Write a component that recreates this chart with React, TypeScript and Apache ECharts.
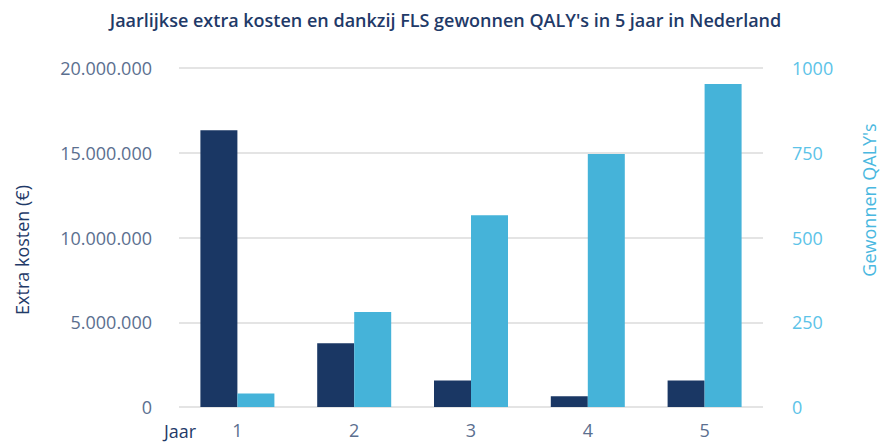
import React, { useEffect, useRef } from "react";
import * as echarts from "echarts";

const categories = ["1", "2", "3", "4", "5"];
const extraKosten = [16330000, 3760000, 1570000, 630000, 1570000];
const qalys = [40, 280, 566, 746, 953];
const leftTicks = [0, 5000000, 10000000, 15000000, 20000000];
const rightTicks = [0, 250, 500, 750, 1000];

const TITLE = "Jaarlijkse extra kosten en dankzij FLS gewonnen QALY's in 5 jaar in Nederland";
const FONT = "'Open Sans', 'Noto Sans', sans-serif";
const NAVY = "#1a3764";
const LIGHT = "#45b3d9";

function fmt(v: number): string {
  return String(Math.round(v)).replace(/\B(?=(\d{3})+(?!\d))/g, ".");
}

export default function App() {
  const ref = useRef<HTMLDivElement>(null);
  useEffect(() => {
    if (!ref.current) return;
    document.body.style.margin = "0";
    const chart = echarts.init(ref.current, undefined, { renderer: "svg" });
    chart.setOption({
      animation: false,
      backgroundColor: "#ffffff",
      title: {
        text: TITLE,
        left: "center",
        top: 6,
        textStyle: { fontFamily: FONT, fontSize: 18, fontWeight: 600, color: "#1f3a68" },
      },
      grid: { left: 179, right: 128, top: 68, bottom: 36, containLabel: false },
      xAxis: {
        type: "category",
        data: categories,
        axisLine: { show: false },
        axisTick: { show: false },
        axisLabel: { fontFamily: FONT, fontSize: 18, color: "#5b6f8f", margin: 14 },
      },
      yAxis: [
        {
          type: "value",
          min: leftTicks[0],
          max: leftTicks[leftTicks.length - 1],
          interval: leftTicks[1] - leftTicks[0],
          axisLine: { show: false },
          axisTick: { show: false },
          splitLine: { lineStyle: { color: "#e4e4e4", width: 2 } },
          axisLabel: {
            fontFamily: FONT,
            fontSize: 18,
            color: "#5b6f8f",
            margin: 27,
            formatter: (v: number) => fmt(v),
          },
        },
        {
          type: "value",
          min: rightTicks[0],
          max: rightTicks[rightTicks.length - 1],
          interval: rightTicks[1] - rightTicks[0],
          axisLine: { show: false },
          axisTick: { show: false },
          splitLine: { show: false },
          axisLabel: {
            fontFamily: FONT,
            fontSize: 18,
            color: "#5cc3e8",
            margin: 29,
            formatter: (v: number) => String(v),
          },
        },
      ],
      series: [
        {
          name: "Extra kosten (€)",
          type: "bar",
          data: extraKosten,
          yAxisIndex: 0,
          barWidth: 37,
          barGap: "0%",
          itemStyle: { color: NAVY },
        },
        {
          name: "Gewonnen QALY's",
          type: "bar",
          data: qalys,
          yAxisIndex: 1,
          barWidth: 37,
          barGap: "0%",
          itemStyle: { color: LIGHT },
        },
      ],
      graphic: [
        {
          type: "text",
          x: 22,
          y: 250,
          rotation: Math.PI / 2,
          style: {
            text: "Extra kosten (€)",
            fontFamily: FONT,
            fontSize: 18,
            fill: "#1f3a68",
            align: "center",
            verticalAlign: "middle",
          },
        },
        {
          type: "text",
          x: 869,
          y: 200,
          rotation: Math.PI / 2,
          style: {
            text: "Gewonnen QALY's",
            fontFamily: FONT,
            fontSize: 18,
            fill: "#4ab8e0",
            align: "center",
            verticalAlign: "middle",
          },
        },
        {
          type: "text",
          x: 164,
          y: 431,
          style: {
            text: "Jaar",
            fontFamily: FONT,
            fontSize: 18,
            fill: "#1f3a68",
            align: "left",
            verticalAlign: "middle",
          },
        },
      ],
    });
    return () => chart.dispose();
  }, []);
  return (
    <div
      ref={ref}
      style={{ position: "fixed", left: 0, top: 0, width: 891, height: 443 }}
    />
  );
}
